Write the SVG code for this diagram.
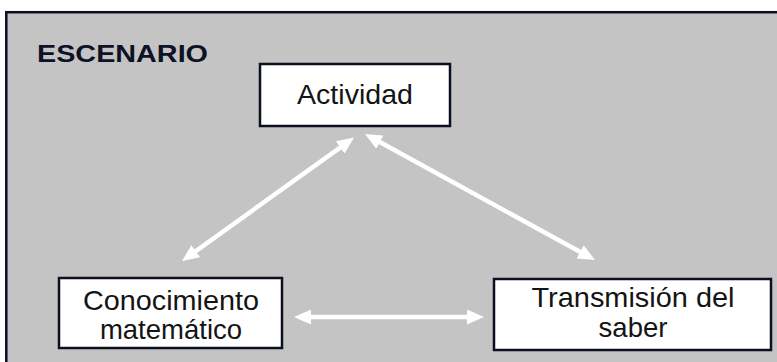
<svg xmlns="http://www.w3.org/2000/svg" width="777" height="362" viewBox="0 0 777 362">
  <style>
    .node rect { fill: #ffffff; stroke: #0b1020; stroke-width: 2.5; }
    .lbl { font-family: "Liberation Sans", Arial, sans-serif; font-size: 27.5px; fill: #141414; text-anchor: middle; }
    .title { font-family: "Liberation Sans", Arial, sans-serif; font-size: 23.5px; font-weight: bold; fill: #0d1224; }
    .conn { stroke: #ffffff; stroke-width: 4.5; fill: none; marker-start: url(#head); marker-end: url(#head); }
  </style>
  <defs>
    <marker id="head" viewBox="0 0 17 15" refX="8" refY="7.5" markerWidth="17" markerHeight="15" markerUnits="userSpaceOnUse" orient="auto-start-reverse">
      <path d="M0,0 L17,7.5 L0,15 Z" fill="#ffffff"/>
    </marker>
  </defs>
  <rect width="777" height="362" fill="#ffffff"/>
  <g id="escenario">
    <rect x="6.3" y="12.2" width="790" height="370" fill="#c4c4c4" stroke="#0a0f1e" stroke-width="2.5"/>
    <text class="title" x="37" y="62" textLength="171" lengthAdjust="spacingAndGlyphs">ESCENARIO</text>
  </g>
  <g id="connectors">
    <line class="conn" x1="189.3" y1="255.8" x2="346.7" y2="142.8"/>
    <line class="conn" x1="372.9" y1="138.3" x2="587.1" y2="255.7"/>
    <line class="conn" x1="303" y1="317" x2="475" y2="317"/>
  </g>
  <g id="actividad" class="node">
    <rect x="260" y="64" width="190" height="62"/>
    <text class="lbl" x="355" y="104" textLength="116" lengthAdjust="spacingAndGlyphs">Actividad</text>
  </g>
  <g id="conocimiento" class="node">
    <rect x="59" y="278" width="223" height="70"/>
    <text class="lbl" x="171" y="310" textLength="176" lengthAdjust="spacingAndGlyphs">Conocimiento</text>
    <text class="lbl" x="171" y="339">matemático</text>
  </g>
  <g id="transmision" class="node">
    <rect x="494" y="279" width="277" height="71"/>
    <text class="lbl" x="633" y="307" textLength="203" lengthAdjust="spacingAndGlyphs">Transmisión del</text>
    <text class="lbl" x="633" y="337">saber</text>
  </g>
</svg>
